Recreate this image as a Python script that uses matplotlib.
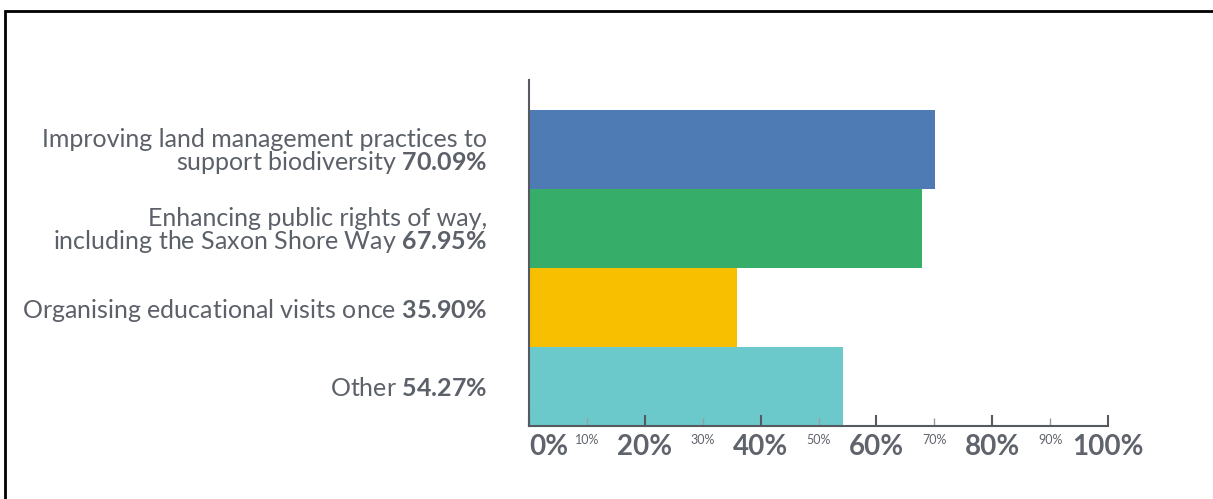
import matplotlib
matplotlib.use("Agg")
import matplotlib.pyplot as plt
from matplotlib.patches import Rectangle

plt.rcParams['font.family'] = ['Lato', 'DejaVu Sans']
plt.rcParams['mathtext.fontset'] = 'custom'
plt.rcParams['mathtext.rm'] = 'Lato'
plt.rcParams['mathtext.bf'] = 'Lato:bold'

labels = [
    "Improving land management practices to\nsupport biodiversity",
    "Enhancing public rights of way,\nincluding the Saxon Shore Way",
    "Organising educational visits once",
    "Other",
]
values = [70.09, 67.95, 35.90, 54.27]
colors = ["#4f7bb5", "#37ad6a", "#f7bf00", "#6bc8cb"]

major_ticks = [0, 20, 40, 60, 80, 100]
minor_ticks = [10, 30, 50, 70, 90]

text_gray = "#5c6169"

fig = plt.figure(figsize=(12.13, 4.99), dpi=100)
ax = fig.add_axes([529 / 1213, 73 / 499, 579 / 1213, 346 / 499])

pos = list(range(len(values)))
ax.barh(pos, values, height=1.0, color=colors, edgecolor='none')

ax.set_xlim(0, 100)
ax.set_ylim(3.5, -0.88)

ticklabels = [f"{lab} $\\mathbf{{{v:.2f}\\%}}$" for lab, v in zip(labels, values)]
ax.set_yticks(pos)
ax.set_yticklabels(ticklabels, fontsize=18, color=text_gray, linespacing=0.95)
ax.tick_params(axis='y', length=0, pad=30)

ax.set_xticks(major_ticks)
ax.set_xticklabels([f"{t}%" for t in major_ticks], fontsize=20, fontweight='bold',
                   color="#5f646c")
ax.set_xticks(minor_ticks, minor=True)
ax.set_xticklabels([f"{t}%" for t in minor_ticks], minor=True, fontsize=9,
                   color="#5f646c")
ax.xaxis.get_majorticklabels()[0].set_horizontalalignment('left')
ax.tick_params(axis='x', which='major', direction='in', length=8, width=1.5,
               color="#555a60", pad=6)
ax.tick_params(axis='x', which='minor', direction='in', length=6, width=1.0,
               color="#9a9ea3", pad=6)

for side in ['top', 'right']:
    ax.spines[side].set_visible(False)
ax.spines['left'].set_color("#555a60")
ax.spines['left'].set_linewidth(1.5)
ax.spines['bottom'].set_color("#555a60")
ax.spines['bottom'].set_linewidth(1.5)

# black frame along the top and left edge
fig.patches.append(Rectangle((5 / 1213, -0.5), 2.0, 1.5 - 11 / 499,
                             transform=fig.transFigure, fill=False,
                             edgecolor='black', linewidth=2))

fig.savefig("out.png", dpi=100)
